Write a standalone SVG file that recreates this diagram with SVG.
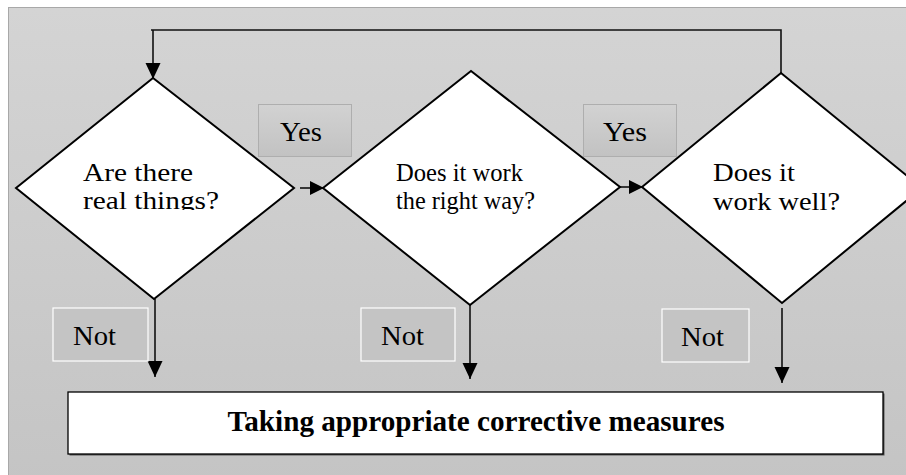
<svg xmlns="http://www.w3.org/2000/svg" width="906" height="475" viewBox="0 0 906 475">
<style>
.dia{fill:#fff;stroke:#000;stroke-width:2}
.t{font-family:"Liberation Serif","Times New Roman",serif;fill:#000}
.dt{font-size:25px}
.lbl{font-size:27px}
.yes{fill:url(#yg);stroke:#aeaeae;stroke-width:1}
.not{fill:#c4c4c4;stroke:#fff;stroke-width:1.2}
.con{stroke:#111;stroke-width:1.6;fill:none}
</style>
<defs>
<linearGradient id="bg" x1="0" y1="0" x2="0" y2="1">
<stop offset="0" stop-color="#d4d4d4"/>
<stop offset="1" stop-color="#c4c4c4"/>
</linearGradient>
<linearGradient id="yg" x1="0" y1="0" x2="0" y2="1">
<stop offset="0" stop-color="#d2d2d2"/>
<stop offset="1" stop-color="#c2c2c2"/>
</linearGradient>
<marker id="av" markerUnits="userSpaceOnUse" markerWidth="16" markerHeight="16" refX="16" refY="7.5" orient="auto">
<path d="M0,0 L16,7.5 L0,15 z" fill="#000"/>
</marker>
<marker id="ah" markerUnits="userSpaceOnUse" markerWidth="15" markerHeight="14" refX="14" refY="7" orient="auto">
<path d="M0,0 L14,7 L0,14 z" fill="#000"/>
</marker>
<clipPath id="c1"><rect x="0" y="0" width="300" height="210"/></clipPath>
</defs>
<rect x="8.5" y="7.5" width="910" height="480" fill="url(#bg)" stroke="#a8a8a8" stroke-width="1"/>

<g id="connectors">
<polyline class="con" points="151,30 781,30 781,73"/>
<line class="con" x1="153" y1="30" x2="153" y2="79" marker-end="url(#av)"/>
<line class="con" x1="300" y1="188" x2="324" y2="188" marker-end="url(#ah)"/>
<line class="con" x1="620" y1="187" x2="643" y2="187" marker-end="url(#ah)"/>
<line class="con" x1="155" y1="299" x2="155" y2="377" marker-end="url(#av)"/>
<line class="con" x1="470" y1="305" x2="470" y2="379" marker-end="url(#av)"/>
<line class="con" x1="782" y1="308" x2="782" y2="383" marker-end="url(#av)"/>
</g>

<g id="d1">
<polygon class="dia" points="16,188 153,78 294,188 154,299"/>
<text class="t dt" x="83" y="181" textLength="110" lengthAdjust="spacingAndGlyphs">Are there</text>
<text class="t dt" x="83" y="209" textLength="136" lengthAdjust="spacingAndGlyphs" clip-path="url(#c1)">real things?</text>
</g>

<g id="d2">
<polygon class="dia" points="323,188 471,71 620,187 470,305"/>
<text class="t dt" x="396" y="181" textLength="127" lengthAdjust="spacingAndGlyphs">Does it work</text>
<text class="t dt" x="396" y="209" textLength="139" lengthAdjust="spacingAndGlyphs">the right way?</text>
</g>

<g id="d3">
<polygon class="dia" points="642,187 781,73 922,188 782,303"/>
<text class="t dt" x="713" y="181" textLength="82" lengthAdjust="spacingAndGlyphs">Does it</text>
<text class="t dt" x="713" y="210" textLength="127" lengthAdjust="spacingAndGlyphs">work well?</text>
</g>

<g id="yes1">
<rect class="yes" x="258.5" y="104.5" width="93" height="52"/>
<text class="t lbl" x="280" y="141" textLength="42" lengthAdjust="spacingAndGlyphs">Yes</text>
</g>
<g id="yes2">
<rect class="yes" x="583.5" y="104.5" width="93" height="52"/>
<text class="t lbl" x="603" y="141" textLength="44" lengthAdjust="spacingAndGlyphs">Yes</text>
</g>

<g id="not1">
<rect class="not" x="53" y="308" width="95" height="53"/>
<text class="t lbl" x="73" y="345" textLength="43" lengthAdjust="spacingAndGlyphs">Not</text>
</g>
<g id="not2">
<rect class="not" x="361" y="308" width="94" height="53"/>
<text class="t lbl" x="381" y="345" textLength="43" lengthAdjust="spacingAndGlyphs">Not</text>
</g>
<g id="not3">
<rect class="not" x="662" y="309" width="87" height="53"/>
<text class="t lbl" x="681" y="346" textLength="43" lengthAdjust="spacingAndGlyphs">Not</text>
</g>

<g id="result">
<rect x="69.5" y="393.5" width="815" height="62" fill="#555"/>
<rect x="68" y="392" width="815" height="62" fill="#fff" stroke="#000" stroke-width="1.3"/>
<text class="t" x="476" y="431" font-size="29" font-weight="bold" text-anchor="middle" textLength="497" lengthAdjust="spacingAndGlyphs">Taking appropriate corrective measures</text>
</g>
</svg>
